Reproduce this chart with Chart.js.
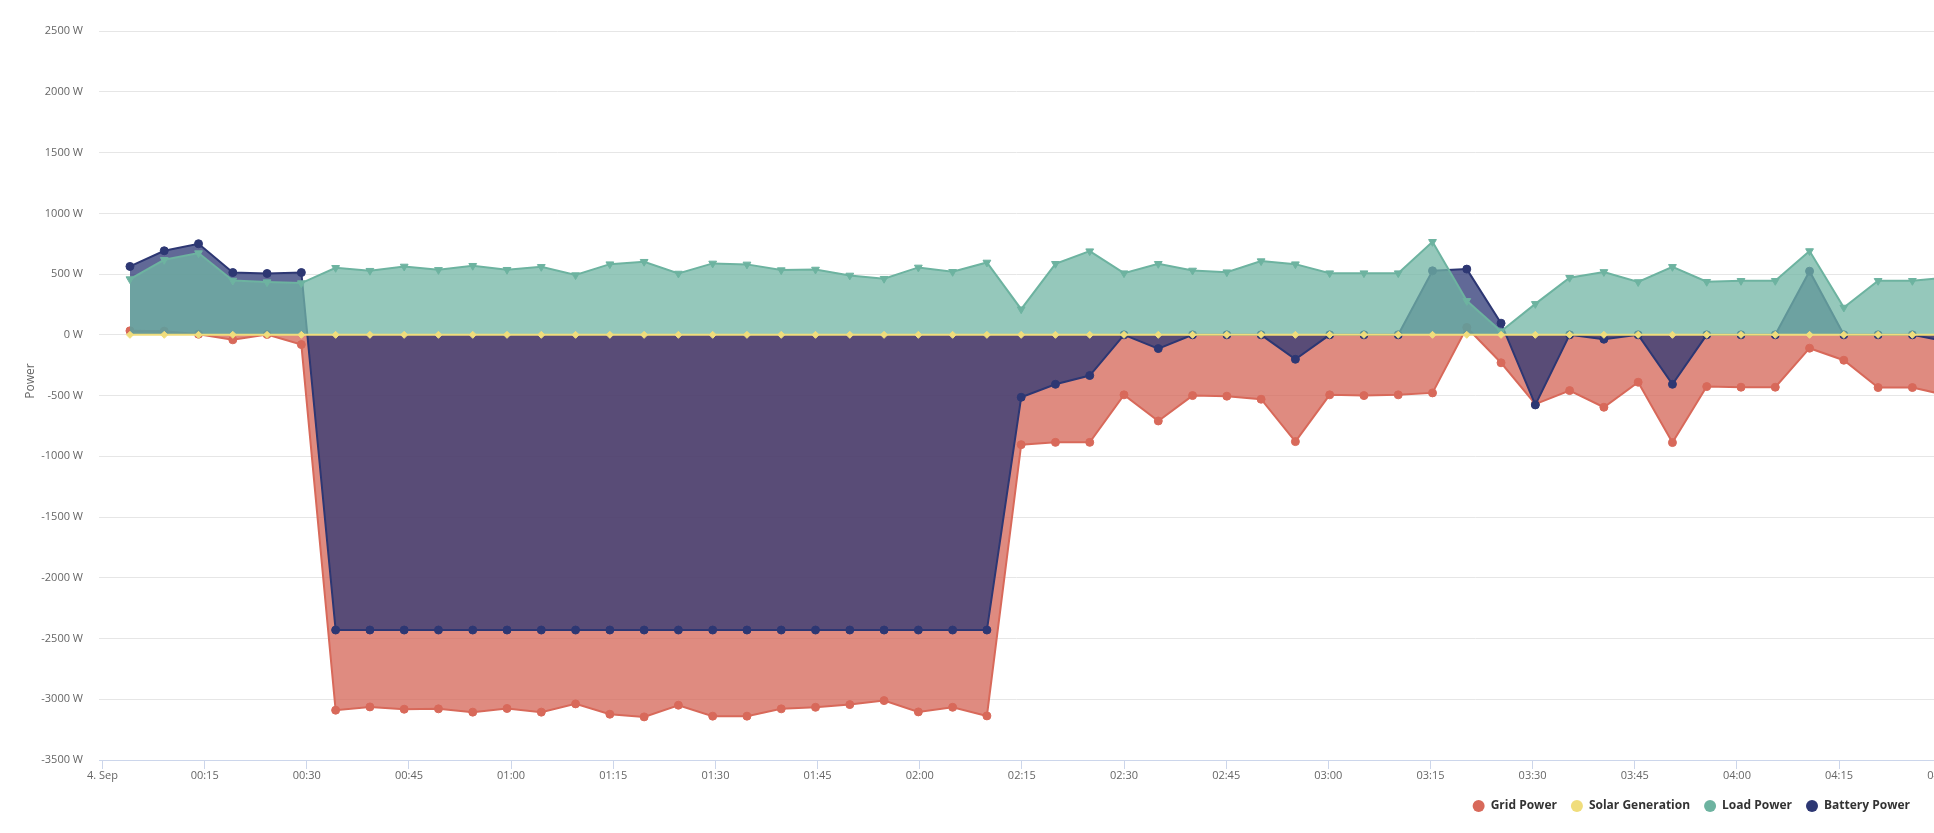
<!DOCTYPE html>
<html>
<head>
<meta charset="utf-8">
<script src="https://cdn.jsdelivr.net/npm/chart.js@4.4.0/dist/chart.umd.min.js"></script>
<style>
html,body{margin:0;padding:0;background:#ffffff;overflow:hidden}
canvas{display:block}
</style>
</head>
<body>
<canvas id="c" width="1934" height="833" style="width:1934px;height:833px"></canvas>
<script>
// ---- data ----
const times = [
  "00:04:02","00:09:04","00:14:06","00:19:08","00:24:10","00:29:12","00:34:14","00:39:16","00:44:18","00:49:20",
  "00:54:22","00:59:24","01:04:26","01:09:28","01:14:30","01:19:32","01:24:34","01:29:36","01:34:38","01:39:40",
  "01:44:42","01:49:44","01:54:46","01:59:48","02:04:50","02:09:52","02:14:54","02:19:56","02:24:58","02:30:00",
  "02:35:02","02:40:04","02:45:06","02:50:08","02:55:10","03:00:12","03:05:14","03:10:16","03:15:18","03:20:20",
  "03:25:22","03:30:24","03:35:26","03:40:28","03:45:30","03:50:32","03:55:34","04:00:36","04:05:38","04:10:40",
  "04:15:42","04:20:44","04:25:46","04:30:48"
];

const gridPower = [
  33, 30, 5, -41, 3, -80,
  -3090, -3063, -3082, -3079, -3106, -3076, -3106, -3038, -3123, -3145,
  -3049, -3139, -3139, -3079, -3066, -3044, -3011, -3104, -3066, -3137,
  -904, -885, -885, -494, -709, -500, -505, -530, -879, -494, -500, -494, -478, 60,
  -230, -570, -459, -596, -390, -887, -426, -431, -431, -110, -209, -434, -434, -497
];

const solarGeneration = [
  0, 0, 0, 0, 0, 0, 0, 0, 0, 0,
  0, 0, 0, 0, 0, 0, 0, 0, 0, 0,
  0, 0, 0, 0, 0, 0, 0, 0, 0, 0,
  0, 0, 0, 0, 0, 0, 0, 0, 0, 0,
  0, 0, 0, 0, 0, 0, 0, 0, 0, 0,
  0, 0, 0, 0
];

const loadPower = [
  459, 618, 673, 447, 434, 426,
  552, 528, 563, 535, 569, 536, 560, 492, 582, 602,
  505, 588, 580, 533, 538, 489, 462, 555, 519, 596,
  211, 585, 689, 508, 585, 530, 516, 607, 582, 508, 508, 508, 766, 280,
  30, 255, 470, 518, 435, 560, 437, 445, 445, 690, 225, 445, 445, 470
];

const batteryPower = [
  563, 692, 750, 513, 505, 513,
  -2430, -2430, -2430, -2430, -2430, -2430, -2430, -2430, -2430, -2430,
  -2430, -2430, -2430, -2430, -2430, -2430, -2430, -2430, -2430, -2430,
  -514, -407, -335, 0, -113, 0, 0, 0, -201, 0, 0, 0, 527, 541,
  96, -577, 0, -36, 0, -407, 0, 0, 0, 524, 0, 0, 0, -55
];

const xTickMinutes = [0, 15, 30, 45, 60, 75, 90, 105, 120, 135, 150, 165, 180, 195, 210, 225, 240, 255, 270];
const yTickValues = [-3500, -3000, -2500, -2000, -1500, -1000, -500, 0, 500, 1000, 1500, 2000, 2500];

// ---- helpers ----
function toMinutes(t) {
  const p = t.split(':').map(Number);
  return p[0] * 60 + p[1] + p[2] / 60;
}
const xs = times.map(toMinutes);
function pts(values) { return values.map((v, i) => ({ x: xs[i], y: v })); }
function pad2(n) { return String(n).padStart(2, '0'); }
function fmtTick(v) {
  if (v === 0) return '4. Sep';
  return pad2(Math.floor(v / 60)) + ':' + pad2(v % 60);
}
function noScalePadding(scale) {
  scale.paddingTop = 0; scale.paddingBottom = 0;
  scale.paddingLeft = 0; scale.paddingRight = 0;
}

const FONT = '"Open Sans", "DejaVu Sans", sans-serif';

const legendShift = {
  id: 'legendShift',
  afterLayout(chart) {
    const l = chart.legend;
    if (l) { l.left -= 10; l.right -= 10; }
  }
};

new Chart(document.getElementById('c'), {
  type: 'line',
  data: {
    datasets: [
      {
        label: 'Grid Power',
        data: pts(gridPower),
        order: 4,
        borderColor: '#d8695a',
        backgroundColor: 'rgba(212,100,86,0.75)',
        pointBackgroundColor: '#d8695a',
        pointBorderColor: '#d8695a',
        pointStyle: 'circle',
        pointRadius: 4,
        pointBorderWidth: 1,
        borderWidth: 2,
        fill: 'origin'
      },
      {
        label: 'Solar Generation',
        data: pts(solarGeneration),
        order: 1,
        borderColor: '#f0dd7c',
        backgroundColor: 'rgba(240,222,122,0.75)',
        pointBackgroundColor: '#f0dd7c',
        pointBorderColor: '#f0dd7c',
        pointStyle: 'rectRot',
        pointRadius: 3.5,
        pointBorderWidth: 1,
        borderWidth: 2,
        fill: 'origin'
      },
      {
        label: 'Load Power',
        data: pts(loadPower),
        order: 2,
        borderColor: '#6db3a0',
        backgroundColor: 'rgba(113,181,164,0.75)',
        pointBackgroundColor: '#6db3a0',
        pointBorderColor: '#6db3a0',
        pointStyle: 'triangle',
        pointRotation: 180,
        pointRadius: 4.5,
        pointBorderWidth: 1,
        borderWidth: 2,
        fill: 'origin'
      },
      {
        label: 'Battery Power',
        data: pts(batteryPower),
        order: 3,
        borderColor: '#2d3773',
        backgroundColor: 'rgba(44,55,116,0.75)',
        pointBackgroundColor: '#2d3773',
        pointBorderColor: '#2d3773',
        pointStyle: 'circle',
        pointRadius: 4,
        pointBorderWidth: 1,
        borderWidth: 2,
        fill: 'origin'
      }
    ]
  },
  options: {
    responsive: false,
    devicePixelRatio: 1,
    animation: false,
    layout: { autoPadding: false, padding: { top: 2, left: 0, right: 0, bottom: 11 } },
    elements: { line: { tension: 0 } },
    plugins: {
      tooltip: { enabled: false },
      legend: {
        position: 'bottom',
        align: 'end',
        labels: {
          usePointStyle: true,
          pointStyle: 'circle',
          boxWidth: 14,
          boxHeight: 8.5,
          padding: 14,
          color: '#333333',
          font: { family: FONT, size: 12, weight: 'bold' },
          sort: (a, b) => a.datasetIndex - b.datasetIndex,
          generateLabels(chart) {
            const items = Chart.defaults.plugins.legend.labels.generateLabels(chart);
            items.forEach(it => { it.fillStyle = it.strokeStyle; it.lineWidth = 0; });
            return items;
          }
        }
      }
    },
    scales: {
      x: {
        type: 'linear',
        min: -0.514,
        max: 268.94,
        afterBuildTicks(scale) { scale.ticks = xTickMinutes.map(v => ({ value: v })); },
        afterFit(scale) { scale.height = 26; noScalePadding(scale); },
        grid: { drawOnChartArea: false, drawTicks: true, tickLength: 9, color: '#ccd6eb', lineWidth: 1 },
        border: { display: true, color: '#ccd6eb', width: 1 },
        ticks: {
          autoSkip: false,
          maxRotation: 0,
          minRotation: 0,
          padding: 0,
          color: '#666666',
          font: { family: FONT, size: 11 },
          callback: (v) => fmtTick(v)
        }
      },
      y: {
        type: 'linear',
        min: -3500,
        max: 2740,
        afterBuildTicks(scale) { scale.ticks = yTickValues.map(v => ({ value: v })); },
        afterFit(scale) { scale.width = 99; noScalePadding(scale); },
        grid: { color: '#e6e6e6', lineWidth: 1, drawTicks: false },
        border: { display: false },
        ticks: {
          padding: 16,
          color: '#666666',
          font: { family: FONT, size: 11 },
          callback: (v) => v + ' W'
        },
        title: {
          display: true,
          text: 'Power',
          color: '#666666',
          font: { family: FONT, size: 12 },
          padding: { top: 23, bottom: 0 }
        }
      }
    }
  },
  plugins: [legendShift]
});
</script>
</body>
</html>
